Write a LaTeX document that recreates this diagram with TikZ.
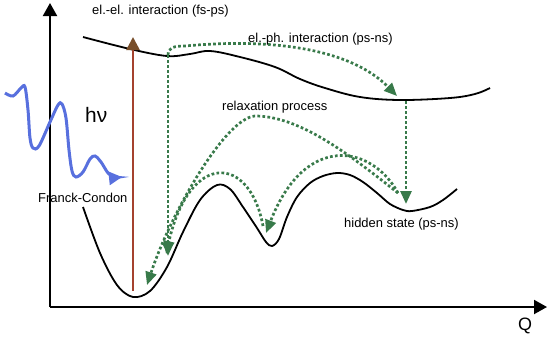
\documentclass[tikz,border=0pt]{standalone}
\usepackage{fontspec}
\setmainfont{Liberation Sans}
\usetikzlibrary{arrows.meta}
\definecolor{grn}{RGB}{56,122,74}
\definecolor{redarr}{RGB}{165,66,46}
\definecolor{redhead}{RGB}{120,78,42}
\definecolor{photon}{RGB}{88,112,222}
\tikzset{
  axis/.style={black, line width=2bp, -{Triangle[length=13bp,width=14bp]}},
  pes/.style={black, line width=1.8bp},
  relax/.style={grn, line width=2.7bp, dash pattern=on 2.7bp off 2.3bp, -{Triangle[length=13bp,width=11bp]}},
  lbl/.style={font=\fontsize{13}{15}\selectfont, inner sep=0pt, anchor=base west},
}
\begin{document}
\begin{tikzpicture}[x=1bp,y=-1bp]
\useasboundingbox (0,0) rectangle (550,338);
% axes
\coordinate (O) at (50,307);
\coordinate (Ytop) at (50,3);
\coordinate (Xend) at (547,307);
\draw[axis] (O) -- (Ytop);
\draw[axis] (O) -- (Xend);
% upper potential energy surface
\draw[pes] plot[smooth, tension=0.6] coordinates {(83,37) (130,49) (167,56) (190,54) (210,51) (240,57) (275,67) (300,79) (325,88) (360,97) (400,100) (450,98) (475,94) (490,88)};
% lower potential energy surface
\draw[pes] plot[smooth, tension=0.55] coordinates {(83,207) (100,253) (117,285) (133,297) (150,291) (167,267) (183,232) (200,200) (217,185) (230,189) (243,207) (257,228) (266,242) (272,246) (279,239) (287,217) (297,197) (310,183) (323,176) (337,173) (350,175) (363,182) (377,193) (390,204) (403,210) (412,211) (430,207) (443,200) (457,189)};
% photon
\draw[photon, line width=3bp, -{Triangle[length=13bp,width=13bp]}] plot[smooth, tension=0.55] coordinates {(5,93) (13,96) (21,88) (25,87) (28,110) (30,138) (33,148) (39,146) (50,122) (58,105) (62,104) (66,118) (69,150) (72,171) (76,177) (83,172) (90,159) (95,156) (101,162) (108,173) (114,177) (122,177)};
% excitation arrow
\coordinate (exS) at (133,291);
\coordinate (exE) at (133,37);
\draw[redarr, line width=2.6bp, -{Triangle[length=13bp,width=13bp,color=redhead]}] (exS) -- (exE);
% green relaxation arrows
\coordinate (ep0) at (168,55);
\coordinate (ep1) at (185,46);
\coordinate (hsTop) at (397,96);
\coordinate (vA) at (168,256);
\coordinate (vB) at (406,101);
\coordinate (hs) at (406,204);
\coordinate (hsS) at (398,193);
\coordinate (wellB) at (147,285);
\coordinate (midTip) at (266,233);
\coordinate (midS) at (263,226);
\coordinate (wellC) at (166,254);
\coordinate (peakB) at (255,116);
\draw[relax] (ep0) .. controls (168,47) and (175,46) .. (ep1) .. controls (270,38) and (350,48) .. (hsTop);
\draw[relax] (ep0) -- (vA);
\draw[relax] (vB) -- (hs);
\draw[relax] (hsS) .. controls (350,155) and (300,116) .. (peakB) .. controls (225,118) and (170,215) .. (wellB);
\draw[relax] (hsS) .. controls (372,145) and (305,132) .. (midTip);
\draw[relax] (midS) .. controls (250,155) and (190,150) .. (wellC);
% labels
\node[lbl] (elel) at (92,14) {el.-el. interaction (fs-ps)};
\node[lbl] (elph) at (248,42) {el.-ph. interaction (ps-ns)};
\node[lbl] (relaxp) at (222,110) {relaxation process};
\node[lbl, font=\fontsize{21}{24}\selectfont] (hnu) at (85,122) {hν};
\node[lbl] (fc) at (38,202) {Franck-Condon};
\node[lbl] (hidden) at (344,227) {hidden state (ps-ns)};
\node[lbl, font=\fontsize{18}{20}\selectfont] (Q) at (518,330) {Q};
\end{tikzpicture}
\end{document}
